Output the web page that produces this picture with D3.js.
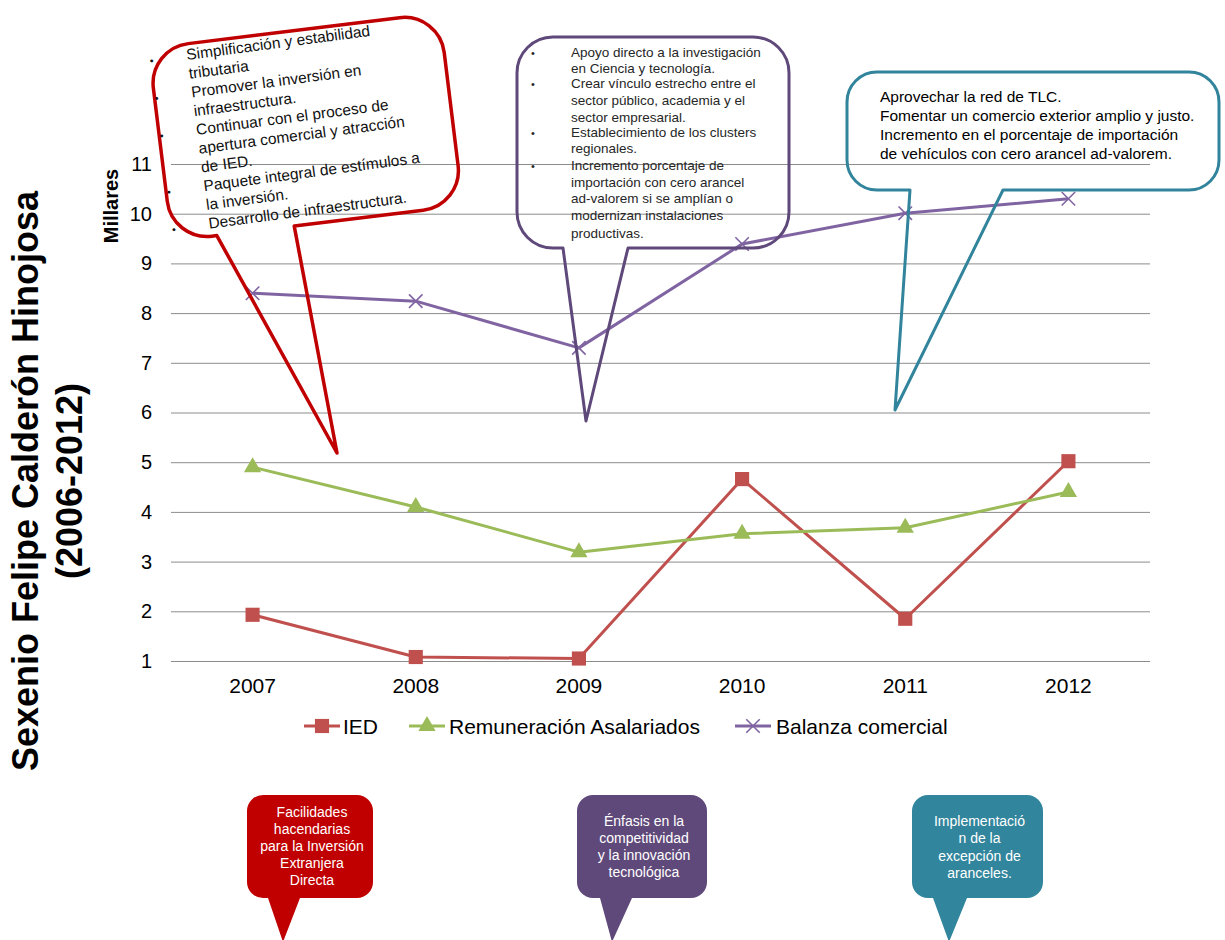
<!DOCTYPE html>
<html><head><meta charset="utf-8">
<script src="https://cdn.jsdelivr.net/npm/d3@7"></script>
<style>
body{margin:0;background:#fff;}
svg{display:block;font-family:"Liberation Sans",Arial,sans-serif;}
</style></head>
<body><svg id="c" width="1225" height="940"></svg>
<script>
const years = ["2007","2008","2009","2010","2011","2012"];
const ied = [1.93, 1.08, 1.05, 4.66, 1.85, 5.02];
const remuneracion = [4.90, 4.10, 3.19, 3.56, 3.68, 4.40];
const balanza = [8.40, 8.24, 7.30, 9.39, 10.01, 10.30];
const yTicks = [1,2,3,4,5,6,7,8,9,10,11];
const seriesNames = ["IED","Remuneración Asalariados","Balanza comercial"];
const seriesColors = ["#c0504d","#9bbb59","#8064a2"];

const redNotes = ["Simplificación y estabilidad","tributaria","Promover la inversión en","infraestructura.","Continuar con el proceso de","apertura comercial y atracción","de IED.","Paquete integral de estímulos a","la inversión.","Desarrollo de infraestructura."];
const redBullets = [0,2,4,7,9];
const purpleNotes = ["Apoyo directo a la investigación","en Ciencia y tecnología.","Crear vínculo estrecho entre el","sector público, academia y el","sector empresarial.","Establecimiento  de los clusters","regionales.","Incremento porcentaje de","importación  con cero arancel","ad-valorem  si se amplían  o","modernizan  instalaciones","productivas."];
const purpleBullets = [0,2,5,7];
const tealNotes = ["Aprovechar la red de TLC.","Fomentar un comercio exterior amplio y justo.","Incremento  en el porcentaje de importación","de vehículos con cero arancel ad-valorem."];
const bottomNotes = [
  ["Facilidades","hacendarias","para la Inversión","Extranjera","Directa"],
  ["Énfasis en la","competitividad","y la innovación","tecnológica"],
  ["Implementació","n de la","excepción de","aranceles."]
];

(function(){
const svg = d3.select("#c");
const pL = 171, pR = 1150, pT = 164, pB = 661;
const x = d3.scaleBand().domain(years).range([pL, pR]);
const y = d3.scaleLinear().domain([1, 11]).range([pB, pT]);
const cx = d => x(d) + x.bandwidth()/2;
const FONT = "Liberation Sans, Arial, sans-serif";

// gridlines + y axis
const ya = svg.append("g").attr("transform", `translate(${pL},0)`)
  .call(d3.axisLeft(y).tickValues(yTicks).tickSize(-(pR-pL)).tickPadding(19).tickFormat(d3.format("d")));
ya.select(".domain").remove();
ya.selectAll("line").attr("stroke", "#8c8c8c").attr("stroke-width", 1);
ya.selectAll("text").attr("font-size", 20).attr("fill", "#000").attr("font-family", FONT);

// x axis labels
const xa = svg.append("g").attr("transform", `translate(0,${pB})`)
  .call(d3.axisBottom(x).tickSize(0).tickPadding(17));
xa.select(".domain").remove();
xa.selectAll("text").attr("font-size", 21).attr("fill", "#000").attr("font-family", FONT);

// titles
svg.append("text").attr("transform", "translate(118,206) rotate(-90)").attr("text-anchor", "middle")
  .attr("font-size", 20).attr("font-weight", "bold").text("Millares");
const tg = svg.append("g").attr("transform", "rotate(-90)").attr("font-weight", "bold").attr("font-size", 36).attr("text-anchor", "middle");
tg.append("text").attr("x", -481).attr("y", 38).text("Sexenio Felipe Calderón Hinojosa");
tg.append("text").attr("x", -481).attr("y", 82).text("(2006-2012)");

// series
const xSym = d3.symbolX || {draw(ctx, size){const r=Math.sqrt(size)*0.6; ctx.moveTo(-r,-r);ctx.lineTo(r,r);ctx.moveTo(-r,r);ctx.lineTo(r,-r);}};
const symbols = [d3.symbol(d3.symbolSquare, 200), d3.symbol(d3.symbolTriangle, 130), d3.symbol(xSym, 120)];
const allSeries = [ied, remuneracion, balanza];
const line = d3.line().x((d,i) => cx(years[i])).y(d => y(d));
allSeries.forEach((vals, k) => {
  svg.append("path").datum(vals).attr("d", line).attr("fill", "none")
    .attr("stroke", seriesColors[k]).attr("stroke-width", 3).attr("stroke-linejoin", "round");
  svg.selectAll(null).data(vals).enter().append("path")
    .attr("transform", (d,i) => `translate(${cx(years[i])},${y(d)})`)
    .attr("d", symbols[k])
    .attr("fill", k === 2 ? "none" : seriesColors[k])
    .attr("stroke", seriesColors[k]).attr("stroke-width", k === 2 ? 1.6 : 0);
});

// legend
const legendItems = [{x0:304, x1:340, tx:343},{x0:409, x1:445, tx:449},{x0:735, x1:771, tx:776}];
const ly = 726;
legendItems.forEach((it, k) => {
  svg.append("line").attr("x1", it.x0).attr("x2", it.x1).attr("y1", ly).attr("y2", ly)
    .attr("stroke", seriesColors[k]).attr("stroke-width", 3);
  svg.append("path").attr("transform", `translate(${(it.x0+it.x1)/2},${ly})`).attr("d", symbols[k])
    .attr("fill", k === 2 ? "none" : seriesColors[k]).attr("stroke", seriesColors[k]).attr("stroke-width", k === 2 ? 1.6 : 0);
  svg.append("text").attr("x", it.tx).attr("y", ly + 8).attr("font-size", 21).attr("fill", "#000").text(seriesNames[k]);
});

// callout helper
function calloutPath(x0,y0,x1,y1,r,tb1,tb2,tx,ty){
  return `M${x0+r},${y0} H${x1-r} A${r},${r} 0 0 1 ${x1},${y0+r} V${y1-r} A${r},${r} 0 0 1 ${x1-r},${y1} H${tb2} L${tx},${ty} L${tb1},${y1} H${x0+r} A${r},${r} 0 0 1 ${x0},${y1-r} V${y0+r} A${r},${r} 0 0 1 ${x0+r},${y0} Z`;
}
function toLocal(px, py, a, ccx, ccy){
  const th = -a*Math.PI/180, dx = px-ccx, dy = py-ccy;
  return [ccx + dx*Math.cos(th) - dy*Math.sin(th), ccy + dx*Math.sin(th) + dy*Math.cos(th)];
}

// red callout (rotated)
const ra = -7, rcx = 305, rcy = 125;
const rtip = toLocal(337, 453, ra, rcx, rcy);
svg.append("path").attr("transform", `rotate(${ra},${rcx},${rcy})`)
  .attr("d", calloutPath(159, 30, 452, 224, 40, 204, 282, rtip[0], rtip[1]))
  .attr("fill", "none").attr("stroke", "#c00000").attr("stroke-width", 3.5).attr("stroke-linejoin", "round");
const rg = svg.append("g").attr("transform", "rotate(-7.5,187,60)").attr("font-size", 15.5).attr("fill", "#111");
redNotes.forEach((t, i) => rg.append("text").attr("x", 187).attr("y", 60 + i*18.9).text(t));
redBullets.forEach(i => rg.append("text").attr("x", 150).attr("y", 60 + i*18.9).attr("font-size", 11).text("•"));

// purple callout
svg.append("path").attr("d", calloutPath(517, 37, 789, 248, 36, 563, 628, 586, 421))
  .attr("fill", "none").attr("stroke", "#5f497a").attr("stroke-width", 3).attr("stroke-linejoin", "round");
const pBase = [57, 73, 88, 105, 122, 137, 153, 170, 187, 203, 220, 238];
const pg = svg.append("g").attr("font-size", 13.5).attr("fill", "#262626");
purpleNotes.forEach((t, i) => pg.append("text").attr("x", 571).attr("y", pBase[i]).text(t));
purpleBullets.forEach(i => pg.append("text").attr("x", 531).attr("y", pBase[i]).attr("font-size", 11).text("•"));

// teal callout
svg.append("path").attr("d", calloutPath(847, 72, 1219, 190, 30, 910, 1003, 895, 410))
  .attr("fill", "none").attr("stroke", "#31849b").attr("stroke-width", 3).attr("stroke-linejoin", "round");
const tBase = [102, 121, 140, 159];
const tgl = svg.append("g").attr("font-size", 15.5).attr("fill", "#000");
tealNotes.forEach((t, i) => tgl.append("text").attr("x", 880).attr("y", tBase[i]).text(t));

// bottom callouts
const bottomBoxes = [
  {x0:247, x1:373, tb1:268, tb2:300, tx:283, fill:"#c00000", base:[817,834,851,868,885]},
  {x0:577, x1:707, tb1:600, tb2:632, tx:612, fill:"#5f497a", base:[826,843,860,877]},
  {x0:912, x1:1043, tb1:933, tb2:967, tx:949, fill:"#31859c", base:[826,843,861,878]}
];
bottomBoxes.forEach((b, k) => {
  svg.append("path").attr("d", calloutPath(b.x0, 795, b.x1, 898, 16, b.tb1, b.tb2, b.tx, 942)).attr("fill", b.fill);
  bottomNotes[k].forEach((t, i) => svg.append("text").attr("x", (b.x0+b.x1)/2 + 2).attr("y", b.base[i])
    .attr("text-anchor", "middle").attr("font-size", 14).attr("fill", "#fff").text(t));
});
})();
</script></body></html>
